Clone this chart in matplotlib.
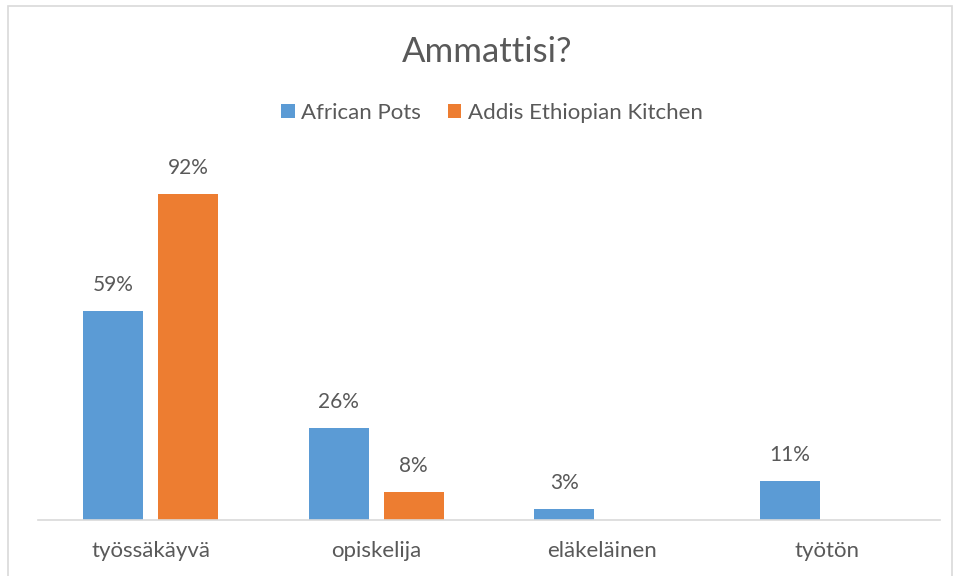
import matplotlib.pyplot as plt
import matplotlib.patches as mpatches
import numpy as np

plt.rcParams['font.family'] = ['Lato', 'DejaVu Sans']

categories = ['työssäkäyvä', 'opiskelija', 'eläkeläinen', 'työtön']
african_pots = [59, 26, 3, 11]
addis = [92, 8, 0, 0]
series_names = ['African Pots', 'Addis Ethiopian Kitchen']

blue = '#5b9bd5'
orange = '#ed7d31'
textc = '#595959'

fig = plt.figure(figsize=(9.59, 5.76), dpi=100)
W, H = 959, 576

# chart border
fig.patches.append(mpatches.Rectangle((8 / W, -0.1), (952 - 8) / W, 1.1 - 6 / H,
                                      transform=fig.transFigure, fill=False,
                                      edgecolor='#d9d9d9', linewidth=1.2))

ax = fig.add_axes([38 / W, 56 / H, (940 - 38) / W, 354 / H])
x = np.arange(len(categories))
bw = 60 / 225.5
off = 37.5 / 225.5

b1 = ax.bar(x - off, african_pots, bw, color=blue, label=series_names[0])
b2 = ax.bar(x + off, addis, bw, color=orange, label=series_names[1])

for bars, vals in ((b1, african_pots), (b2, addis)):
    for r, v in zip(bars, vals):
        if v > 0:
            ax.text(r.get_x() + r.get_width() / 2, v + 4.5, '%d%%' % v,
                    ha='center', va='bottom', fontsize=15, color=textc)

ax.set_xlim(-0.5, len(categories) - 0.5)
ax.set_ylim(0, 100)
ax.set_yticks([])
ax.set_xticks(x)
ax.set_xticklabels(categories, fontsize=16, color=textc)
ax.tick_params(axis='x', length=0, pad=15)
for s in ['top', 'right', 'left']:
    ax.spines[s].set_visible(False)
ax.spines['bottom'].set_color('#d9d9d9')
ax.spines['bottom'].set_linewidth(1.2)

fig.text(487 / W, 1 - 52 / H, 'Ammattisi?', ha='center', va='center',
         fontsize=25, color=textc)
fig.legend(handles=[b1, b2], loc='center', bbox_to_anchor=(492 / W, 1 - 113 / H),
           ncol=2, frameon=False, fontsize=16, handlelength=0.6, handleheight=0.6,
           handletextpad=0.3, columnspacing=1.2, labelcolor=textc)

plt.savefig('out.png', dpi=100)
